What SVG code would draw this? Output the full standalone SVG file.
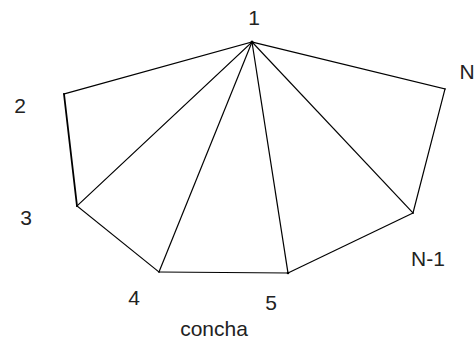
<svg xmlns="http://www.w3.org/2000/svg" width="474" height="340" viewBox="0 0 474 340">
<style>
.e{stroke:#000;stroke-width:1.2;fill:none;stroke-linecap:square}
.t{font-family:"Liberation Sans",Arial,sans-serif;font-size:21px;fill:#222;text-anchor:middle}
</style>
<rect width="474" height="340" fill="#fff"/>
<g id="connectors">
<line class="e" x1="252" y1="42" x2="64" y2="94"/>
<line class="e" x1="64" y1="94" x2="77" y2="206" style="stroke-width:1.8"/>
<line class="e" x1="77" y1="206" x2="159" y2="272"/>
<line class="e" x1="159" y1="272" x2="288" y2="273"/>
<line class="e" x1="288" y1="273" x2="413" y2="213"/>
<line class="e" x1="413" y1="213" x2="445" y2="89"/>
<line class="e" x1="445" y1="89" x2="252" y2="42"/>
<line class="e" x1="252" y1="42" x2="77" y2="206"/>
<line class="e" x1="252" y1="42" x2="159" y2="272"/>
<line class="e" x1="252" y1="42" x2="288" y2="273"/>
<line class="e" x1="252" y1="42" x2="413" y2="213"/>
</g>
<g id="v1"><circle cx="252" cy="42" r="1.5"/><text class="t" x="254" y="25">1</text></g>
<g id="v2"><text class="t" x="20" y="113">2</text></g>
<g id="v3"><text class="t" x="26" y="225">3</text></g>
<g id="v4"><text class="t" x="134" y="305">4</text></g>
<g id="v5"><circle cx="288" cy="273" r="1.3"/><text class="t" x="271" y="310">5</text></g>
<g id="vN1"><text class="t" x="428" y="266">N-1</text></g>
<g id="vN"><text class="t" x="467" y="79">N</text></g>
<g id="caption"><text class="t" x="214" y="336">concha</text></g>
</svg>
